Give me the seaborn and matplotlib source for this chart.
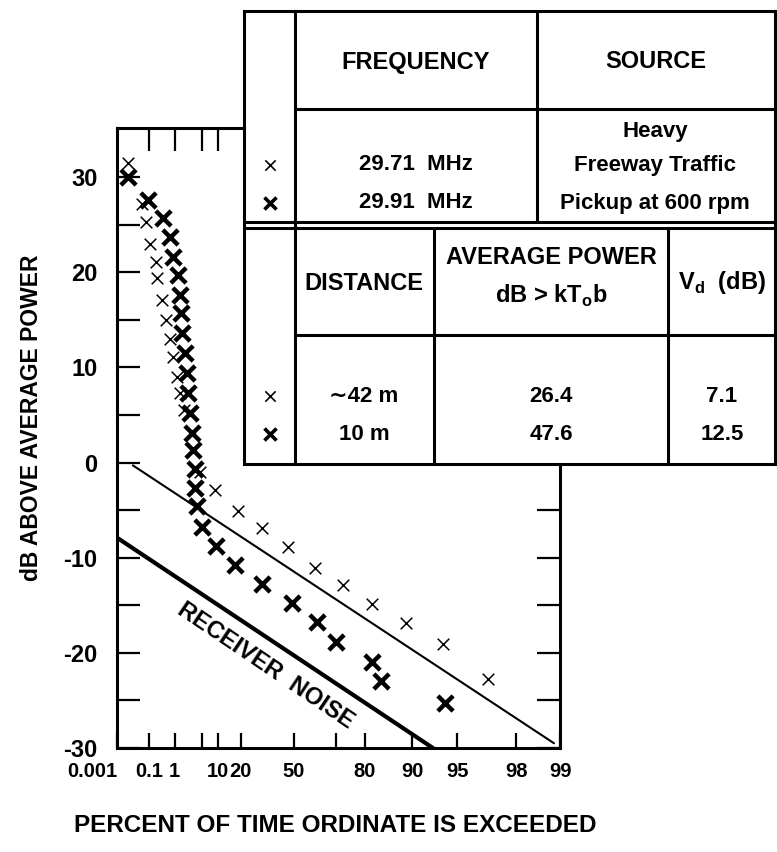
import numpy as np
import matplotlib
matplotlib.use("Agg")
import matplotlib.pyplot as plt
import matplotlib.transforms as mtransforms
import seaborn as sns
from matplotlib.patches import Rectangle

# percent of time exceeded / dB above average power
light_pct = [0.0066, 0.042, 0.070, 0.11, 0.20, 0.23, 0.35, 0.51, 0.70, 0.90, 1.16, 1.5, 1.9,
             4.6, 8.8, 18.7, 32, 46.8, 60.9, 73, 81.8, 89.1, 93.7, 96.9]
light_db = [31.5, 27.2, 25.3, 23.0, 21.1, 19.4, 17.1, 15.0, 13.0, 11.1, 9.0, 7.3, 5.5,
            -1.0, -2.9, -5.1, -6.9, -8.9, -11.1, -12.9, -14.9, -16.9, -19.1, -22.8]

bold_pct = [0.0066, 0.09, 0.40, 0.70, 0.90, 1.3, 1.5, 1.6, 1.7, 2.0, 2.3, 2.4, 2.7, 3.1,
            3.2, 3.6, 3.6, 3.9, 5.0, 9.2, 17, 32, 49, 62, 70, 82, 84, 93.9]
bold_db = [30.0, 27.6, 25.7, 23.7, 21.6, 19.7, 17.6, 15.7, 13.6, 11.5, 9.4, 7.3, 5.2, 3.1,
           1.3, -0.7, -2.7, -4.6, -6.8, -8.8, -10.8, -12.8, -14.8, -16.8, -18.9, -21.0, -23.0, -25.3]

# straight lines on the Rayleigh paper
fit_pct = [0.013, 98.9]
fit_db = [-0.3, -29.5]
noise_pct = [0.001, 92.7]
noise_db = [-7.9, -30.0]

x_ticks = [0.001, 0.1, 1, 5, 10, 20, 50, 70, 80, 90, 95, 98, 99]
x_labels = ["0.001", "0.1", "1", "", "10", "20", "50", "", "80", "90", "95", "98", "99"]
top_ticks = [0.1, 1, 5, 10]
y_major = [-30, -20, -10, 0, 10, 20, 30]
y_minor = [-25, -15, -5, 5, 15, 25]

# table contents
upper_head = ["FREQUENCY", "SOURCE"]
freqs = ["29.71  MHz", "29.91  MHz"]
source_lines = ["Heavy", "Freeway Traffic", "Pickup at 600 rpm"]
lower_head = ["DISTANCE", "AVERAGE POWER", "dB > kT$_\\mathrm{o}$b", "V$_\\mathrm{d}$  (dB)"]
distances = ["\u223c42 m", "10 m"]
avg_power = ["26.4", "47.6"]
v_d = ["7.1", "12.5"]


def rayleigh_fwd(p):
    p = np.clip(np.asarray(p, dtype=float), 1e-9, 100 - 1e-9)
    return -10.0 * np.log10(-np.log(p / 100.0))


def rayleigh_inv(x):
    x = np.clip(np.asarray(x, dtype=float), -60, 60)
    return 100.0 * np.exp(-10.0 ** (-x / 10.0))


sns.set_style("ticks")
plt.rcParams["font.family"] = ["Liberation Sans", "DejaVu Sans"]
plt.rcParams["font.weight"] = "bold"
plt.rcParams["mathtext.fontset"] = "custom"
plt.rcParams["mathtext.rm"] = "Liberation Sans:bold"
plt.rcParams["mathtext.bf"] = "Liberation Sans:bold"
for key in ["text.color", "axes.labelcolor", "xtick.color", "ytick.color", "axes.edgecolor"]:
    plt.rcParams[key] = "black"

W, H = 777, 852
fig = plt.figure(figsize=(W / 100, H / 100), dpi=100)
ax = fig.add_axes([117 / W, 104 / H, 443 / W, 620 / H])
ax.set_xscale("function", functions=(rayleigh_fwd, rayleigh_inv))

sns.lineplot(x=noise_pct, y=noise_db, ax=ax, color="black", lw=3.0)
sns.lineplot(x=fit_pct, y=fit_db, ax=ax, color="black", lw=1.5)
sns.scatterplot(x=light_pct, y=light_db, ax=ax, marker="x", s=70, linewidth=1.1,
                color="black", zorder=4)
sns.scatterplot(x=bold_pct, y=bold_db, ax=ax, marker="x", s=120, linewidth=3.2,
                color="black", zorder=4)

ax.text(34, -21.3, "RECEIVER  NOISE", rotation=-34, rotation_mode="anchor",
        ha="center", va="center", fontsize=17, fontweight="bold")

ax.set_xlim(0.001, 99)
ax.set_ylim(-30, 35.15)
ax.set_xticks(x_ticks)
ax.set_xticklabels(x_labels, fontsize=14.5, fontweight="bold")
xl = ax.get_xticklabels()
xl[0].set_horizontalalignment("right")
shift = {"0.001": -3, "10": -3, "20": 1}
for lbl in xl:
    dx = shift.get(lbl.get_text(), 0)
    if dx:
        lbl.set_transform(lbl.get_transform()
                          + mtransforms.ScaledTranslation(dx / 100, 0, fig.dpi_scale_trans))
ax.set_yticks(y_major)
ax.set_yticks(y_minor, minor=True)
ax.set_yticklabels([str(v) for v in y_major], fontsize=17, fontweight="bold")
ax.tick_params(axis="x", direction="in", length=11, width=1.6, pad=10, top=False)
ax.tick_params(axis="y", which="both", direction="in", length=16.5, width=1.6,
               pad=14, right=True)
for s in ax.spines.values():
    s.set_linewidth(2.2)
ax.set_xlabel("")
ax.set_ylabel("")

ax_top = ax.twiny()
ax_top.set_xscale("function", functions=(rayleigh_fwd, rayleigh_inv))
ax_top.set_xlim(ax.get_xlim())
ax_top.set_xticks(top_ticks)
ax_top.set_xticklabels([])
ax_top.tick_params(axis="x", direction="in", length=16.5, width=1.6, top=True, bottom=False)
for s in ax_top.spines.values():
    s.set_visible(False)

fig.text(32 / W, 1 - 418 / H, "dB ABOVE AVERAGE POWER", rotation=90, ha="center",
         va="center", fontsize=16.5, fontweight="bold")
fig.text(335 / W, 1 - 825 / H, "PERCENT OF TIME ORDINATE IS EXCEEDED", ha="center",
         va="center", fontsize=17.5, fontweight="bold")

# table drawn in pixel space over the upper right of the plot
tax = fig.add_axes([0, 0, 1, 1])
tax.set_zorder(5)
tax.set_xlim(0, W)
tax.set_ylim(H, 0)
tax.axis("off")

left, right, top, bottom = 244, 775, 10.5, 464
tax.add_patch(Rectangle((left, top), right - left, bottom - top, facecolor="white",
                        edgecolor="black", lw=2.2, zorder=1))
lk = dict(color="black", lw=2.2, zorder=2)
tax.plot([295, 295], [top, bottom], **lk)
tax.plot([295, right], [109, 109], **lk)
tax.plot([left, right], [222, 222], **lk)
tax.plot([left, right], [228, 228], **lk)
tax.plot([537, 537], [top, 222], **lk)
tax.plot([295, right], [335, 335], **lk)
tax.plot([434, 434], [228, bottom], **lk)
tax.plot([668, 668], [228, bottom], **lk)

tk = dict(ha="center", va="center", fontweight="bold", zorder=3)
tax.text(416, 62, upper_head[0], fontsize=17, **tk)
tax.text(656, 62, upper_head[1], fontsize=17, **tk)
for yy, s in zip([131, 165, 203], source_lines):
    tax.text(655, yy, s, fontsize=16, **tk)
for yy, s in zip([165, 203], freqs):
    tax.text(416, yy, s, fontsize=16, **tk)
tax.text(364, 283, lower_head[0], fontsize=17, **tk)
tax.text(551, 258, lower_head[1], fontsize=17, **tk)
tax.text(551, 296, lower_head[2], fontsize=17, **tk)
tax.text(722, 283, lower_head[3], fontsize=17, **tk)
for yy, d, p, v in zip([396, 434], distances, avg_power, v_d):
    tax.text(364, yy, d, fontsize=16, **tk)
    tax.text(551, yy, p, fontsize=16, **tk)
    tax.text(722, yy, v, fontsize=16, **tk)

tax.scatter([270, 270], [165, 396], marker="x", s=55, linewidths=1.2, color="black", zorder=3)
tax.scatter([270, 270], [203, 434], marker="x", s=75, linewidths=2.6, color="black", zorder=3)

fig.savefig("out.png", dpi=100, facecolor="white")
